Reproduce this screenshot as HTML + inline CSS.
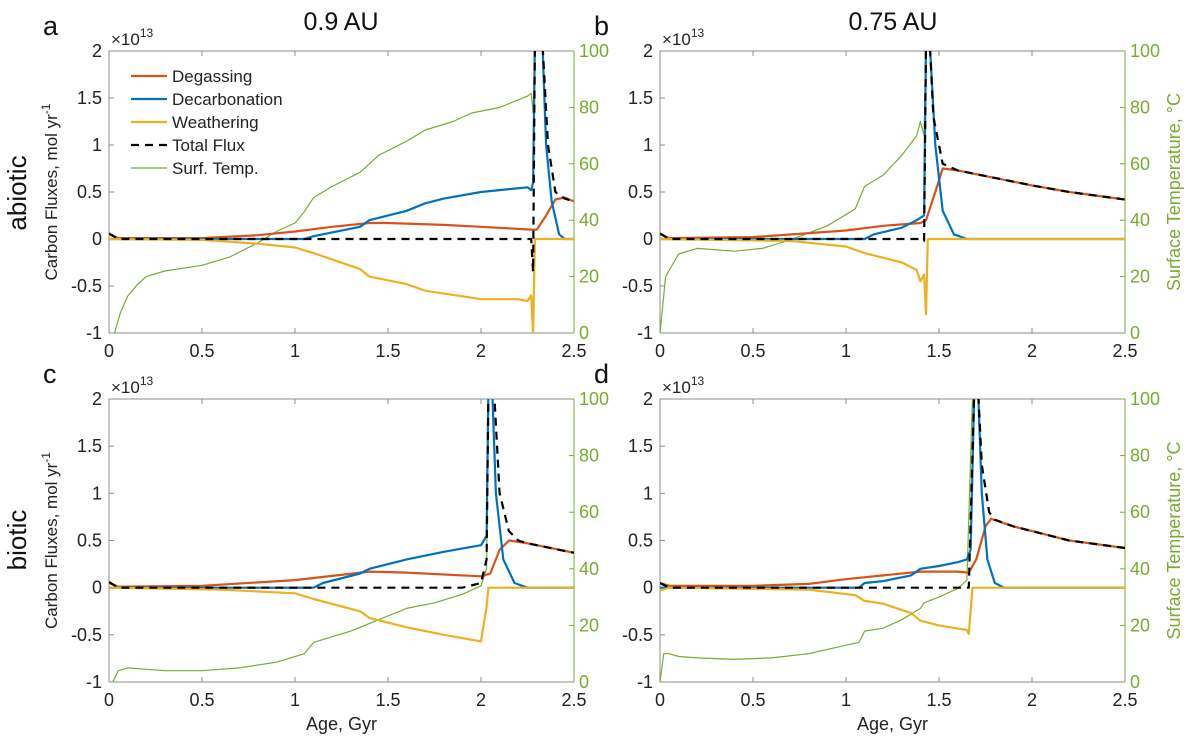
<!DOCTYPE html>
<html><head><meta charset="utf-8"><style>
body{margin:0;background:#fff;}
svg{display:block;font-family:"Liberation Sans",sans-serif;}
</style></head><body>
<svg id="fig" width="1200" height="742"></svg>
<script>
const xTicks=[0,0.5,1,1.5,2,2.5];
const xTickLabels=["0","0.5","1","1.5","2","2.5"];
const yTicks=[-1,-0.5,0,0.5,1,1.5,2];
const yTickLabels=["-1","-0.5","0","0.5","1","1.5","2"];
const tTicks=[0,20,40,60,80,100];
const tTickLabels=["0","20","40","60","80","100"];

const aDegassing=[[0,0.05],[0.05,0.01],[0.5,0.01],[0.8,0.04],[1.0,0.08],[1.2,0.13],[1.4,0.17],[1.5,0.17],[1.8,0.15],[2.0,0.13],[2.27,0.1],[2.3,0.1],[2.35,0.25],[2.4,0.42],[2.45,0.44],[2.5,0.4]];
const aDecarb=[[0,0],[1.05,0],[1.1,0.03],[1.35,0.13],[1.4,0.2],[1.6,0.3],[1.7,0.38],[1.8,0.43],[2.0,0.5],[2.1,0.52],[2.25,0.55],[2.27,0.52],[2.28,0.6],[2.29,2.1],[2.33,2.1],[2.35,1.0],[2.38,0.4],[2.42,0.05],[2.45,0],[2.5,0]];
const aWeather=[[0,0],[0.5,-0.01],[0.8,-0.05],[1.0,-0.09],[1.1,-0.15],[1.35,-0.32],[1.4,-0.4],[1.6,-0.48],[1.7,-0.55],[1.9,-0.61],[2.0,-0.64],[2.2,-0.64],[2.25,-0.66],[2.27,-0.6],[2.28,-1.0],[2.29,0],[2.5,0]];
const aTotal=[[0,0.06],[0.05,0],[2.27,0],[2.28,-0.35],[2.29,2.1],[2.33,2.1],[2.36,1.0],[2.4,0.5],[2.45,0.43],[2.5,0.4]];
const aTemp=[[0.03,0],[0.06,7],[0.1,13],[0.15,17],[0.2,20],[0.3,22],[0.5,24],[0.65,27],[0.8,32],[0.9,36],[1.0,39],[1.05,43],[1.1,48],[1.2,52],[1.35,57],[1.45,63],[1.6,68],[1.7,72],[1.85,75],[1.95,78],[2.1,80],[2.25,84],[2.27,85],[2.28,78],[2.29,101]];

const bDegassing=[[0,0.05],[0.05,0.01],[0.5,0.02],[1.0,0.09],[1.2,0.14],[1.4,0.17],[1.43,0.2],[1.48,0.5],[1.52,0.75],[1.6,0.73],[1.8,0.65],[2.0,0.57],[2.2,0.5],[2.5,0.42]];
const bDecarb=[[0,0],[1.1,0],[1.15,0.05],[1.3,0.12],[1.38,0.2],[1.42,0.25],[1.43,2.1],[1.45,2.1],[1.48,1.0],[1.52,0.3],[1.58,0.05],[1.65,0],[2.5,0]];
const bWeather=[[0,0],[0.7,-0.02],[1.0,-0.08],[1.1,-0.15],[1.3,-0.25],[1.38,-0.33],[1.4,-0.45],[1.42,-0.38],[1.43,-0.8],[1.44,0],[2.5,0]];
const bTotal=[[0,0.06],[0.05,0],[1.4,0],[1.42,-0.02],[1.43,2.1],[1.45,2.1],[1.47,1.3],[1.52,0.8],[1.6,0.73],[1.8,0.65],[2.0,0.57],[2.2,0.5],[2.5,0.42]];
const bTemp=[[0,0],[0.03,20],[0.1,28],[0.2,30],[0.4,29],[0.55,30],[0.7,33],[0.9,38],[1.05,44],[1.1,52],[1.2,56],[1.3,63],[1.38,70],[1.4,75],[1.42,70],[1.43,101]];

const cDegassing=[[0,0.05],[0.05,0.01],[0.5,0.02],[1.0,0.08],[1.4,0.17],[1.6,0.16],[2.0,0.12],[2.05,0.15],[2.1,0.4],[2.15,0.5],[2.25,0.47],[2.5,0.37]];
const cDecarb=[[0,0],[1.1,0],[1.15,0.05],[1.35,0.15],[1.4,0.2],[1.6,0.3],[1.8,0.38],[2.0,0.45],[2.03,0.55],[2.04,2.1],[2.06,2.1],[2.08,1.0],[2.12,0.3],[2.18,0.05],[2.25,0],[2.5,0]];
const cWeather=[[0,0],[0.6,-0.02],[1.0,-0.06],[1.1,-0.12],[1.35,-0.25],[1.4,-0.32],[1.6,-0.42],[1.8,-0.5],[2.0,-0.57],[2.03,-0.2],[2.04,0],[2.5,0]];
const cTotal=[[0,0.06],[0.05,0],[1.9,0],[2.0,0.05],[2.03,0.3],[2.04,2.1],[2.07,2.1],[2.1,1.0],[2.15,0.6],[2.2,0.5],[2.25,0.47],[2.5,0.37]];
const cTemp=[[0.02,0],[0.05,4],[0.1,5],[0.3,4],[0.5,4],[0.7,5],[0.9,7],[1.05,10],[1.1,14],[1.2,16],[1.3,18],[1.45,22],[1.6,26],[1.75,28],[1.9,31],[2.0,34],[2.03,40],[2.04,101]];

const dDegassing=[[0,0.05],[0.05,0.02],[0.5,0.02],[0.8,0.04],[1.0,0.09],[1.2,0.13],[1.4,0.17],[1.6,0.17],[1.66,0.16],[1.7,0.3],[1.75,0.65],[1.78,0.73],[1.9,0.65],[2.0,0.6],[2.2,0.5],[2.5,0.42]];
const dDecarb=[[0,0],[1.07,0],[1.1,0.05],[1.2,0.07],[1.35,0.13],[1.4,0.2],[1.5,0.23],[1.6,0.27],[1.65,0.3],[1.67,0.4],[1.69,2.1],[1.71,2.1],[1.73,1.0],[1.76,0.3],[1.8,0.05],[1.85,0],[2.5,0]];
const dWeather=[[0,-0.03],[0.05,0],[0.8,-0.02],[1.05,-0.08],[1.1,-0.14],[1.2,-0.17],[1.35,-0.27],[1.4,-0.35],[1.5,-0.4],[1.65,-0.45],[1.66,-0.49],[1.68,0],[2.5,0]];
const dTotal=[[0,0.05],[0.05,0],[1.66,0],[1.69,2.1],[1.71,2.1],[1.73,1.3],[1.77,0.8],[1.8,0.72],[1.9,0.65],[2.0,0.6],[2.2,0.5],[2.5,0.42]];
const dTemp=[[0,0],[0.02,10],[0.05,10],[0.1,9],[0.2,8.5],[0.4,8],[0.6,8.5],[0.8,10],[1.0,13],[1.07,14],[1.1,18],[1.2,19],[1.3,22],[1.4,26],[1.42,28],[1.5,30],[1.6,33],[1.65,36],[1.68,101]];

const NS="http://www.w3.org/2000/svg";
const svg=document.getElementById('fig');
function mk(tag,attrs,parent,text){const e=document.createElementNS(NS,tag);for(const k in attrs)e.setAttribute(k,attrs[k]);if(text!==undefined)e.textContent=text;(parent||svg).appendChild(e);return e;}
const RED="#D95319",BLUE="#0072BD",YEL="#EDB120",GRN="#77AC30";

const panels=[
 {id:"a",x0:109,x1:574,y0:51,y1:333,deg:aDegassing,dec:aDecarb,wea:aWeather,tot:aTotal,tmp:aTemp,leftTitle:true,rightTitle:false,xTitle:false},
 {id:"b",x0:660,x1:1125,y0:51,y1:333,deg:bDegassing,dec:bDecarb,wea:bWeather,tot:bTotal,tmp:bTemp,leftTitle:false,rightTitle:true,xTitle:false},
 {id:"c",x0:109,x1:574,y0:399,y1:682,deg:cDegassing,dec:cDecarb,wea:cWeather,tot:cTotal,tmp:cTemp,leftTitle:true,rightTitle:false,xTitle:true},
 {id:"d",x0:660,x1:1125,y0:399,y1:682,deg:dDegassing,dec:dDecarb,wea:dWeather,tot:dTotal,tmp:dTemp,leftTitle:false,rightTitle:true,xTitle:true}
];

panels.forEach(p=>{
 const g=mk('g',{});
 
 
 const sx=v=>p.x0+(v-0)/(2.5)*(p.x1-p.x0);
 const sy=v=>p.y1-(v+1)/3*(p.y1-p.y0);
 const st=v=>p.y1-v/100*(p.y1-p.y0);
 const cid='clip'+p.id;
 const cp=mk('clipPath',{id:cid},g);
 mk('rect',{x:p.x0,y:p.y0,width:p.x1-p.x0,height:p.y1-p.y0},cp);
 const ax=mk('path',{d:`M${p.x0},${p.y1}V${p.y0}H${p.x1}M${p.x0},${p.y1}H${p.x1}`,stroke:"#8c8c8c",fill:"none","stroke-width":1},g);
 
 
 const ra=mk('line',{x1:p.x1,y1:p.y0,x2:p.x1,y2:p.y1,stroke:GRN,"stroke-width":1},g);
 
 
 xTicks.forEach((t,i)=>{
  const x=sx(t);
  mk('line',{x1:x,y1:p.y1,x2:x,y2:p.y1-5,stroke:"#8c8c8c"},g);
  mk('line',{x1:x,y1:p.y0,x2:x,y2:p.y0+5,stroke:"#8c8c8c"},g);
  const tl=mk('text',{x:x,y:p.y1+24,"font-size":18,"text-anchor":"middle",fill:"#222"},g,xTickLabels[i]);
  
  
 });
 yTicks.forEach((t,i)=>{
  const y=sy(t);
  mk('line',{x1:p.x0,y1:y,x2:p.x0+5,y2:y,stroke:"#8c8c8c"},g);
  const tl=mk('text',{x:p.x0-7,y:y+6,"font-size":18,"text-anchor":"end",fill:"#222"},g,yTickLabels[i]);
  
  
 });
 tTicks.forEach((t,i)=>{
  const y=st(t);
  mk('line',{x1:p.x1,y1:y,x2:p.x1-5,y2:y,stroke:GRN},g);
  const tl=mk('text',{x:p.x1+5,y:y+6,"font-size":18,fill:GRN},g,tTickLabels[i]);
  
  
 });
 const ex=mk('text',{x:p.x0+2,y:p.y0-6,"font-size":17,fill:"#222"},g,"\u00d710");
 
 
 mk('tspan',{"font-size":12,dy:-8},ex,"13");
 const letter=mk('text',{x:p.x0-66,y:p.y0-16,"font-size":27,fill:"#111"},g,p.id);
 
 
 if(p.leftTitle){
  const lt=mk('text',{transform:`translate(${p.x0-52},${(p.y0+p.y1)/2}) rotate(-90)`,"font-size":17,"text-anchor":"middle",fill:"#222"},g,"Carbon Fluxes, mol yr");
  mk('tspan',{"font-size":12,dy:-7},lt,"-1");
  
  
 }
 if(p.rightTitle){
  const rt=mk('text',{transform:`translate(${p.x1+55},${(p.y0+p.y1)/2}) rotate(-90)`,"font-size":18,"text-anchor":"middle",fill:GRN},g,"Surface Temperature, \u00b0C");
  
  
 }
 if(p.xTitle){
  const xt=mk('text',{x:(p.x0+p.x1)/2,y:p.y1+48,"font-size":18,"text-anchor":"middle",fill:"#222"},g,"Age, Gyr");
  
  
 }
 const plot=mk('g',{"clip-path":`url(#${cid})`},g);
 function line(arr,fy,color,w,name,dash){
  const d=arr.map((pt,i)=>(i?'L':'M')+sx(pt[0]).toFixed(1)+','+fy(pt[1]).toFixed(1)).join('');
  const a={d:d,stroke:color,"stroke-width":w,fill:"none","stroke-linejoin":"round"};
  if(dash)a["stroke-dasharray"]=dash;
  const e=mk('path',a,plot);
  
  
 }
 line(p.tmp,st,GRN,1.2,'surf-temp-line');
 line(p.deg,sy,RED,2.2,'degassing-line');
 line(p.dec,sy,BLUE,2.2,'decarbonation-line');
 line(p.wea,sy,YEL,2.2,'weathering-line');
 line(p.tot,sy,"#000",2.2,'total-flux-line',"8,6");
});

[["0.9 AU",341,30],["0.75 AU",893,30]].forEach(t=>{
 const e=mk('text',{x:t[1],y:t[2],"font-size":25,"text-anchor":"middle",fill:"#111"},svg,t[0]);
 
 
});
[["abiotic",193],["biotic",540]].forEach(t=>{
 const e=mk('text',{transform:`translate(26,${t[1]}) rotate(-90)`,"font-size":26,"text-anchor":"middle",fill:"#111"},svg,t[0]);
 
 
});
const lg=mk('g',{});


const legItems=[["Degassing",RED,2.2,null],["Decarbonation",BLUE,2.2,null],["Weathering",YEL,2.2,null],["Total Flux","#000",2.2,"8,6"],["Surf. Temp.",GRN,1.2,null]];
legItems.forEach((it,i)=>{
 const y=76+i*23;
 const a={x1:131,y1:y,x2:167,y2:y,stroke:it[1],"stroke-width":it[2]};
 if(it[3])a["stroke-dasharray"]=it[3];
 mk('line',a,lg);
 const t=mk('text',{x:172,y:y+6,"font-size":17,fill:"#222"},lg,it[0]);
 
 
});
</script>
</body></html>
